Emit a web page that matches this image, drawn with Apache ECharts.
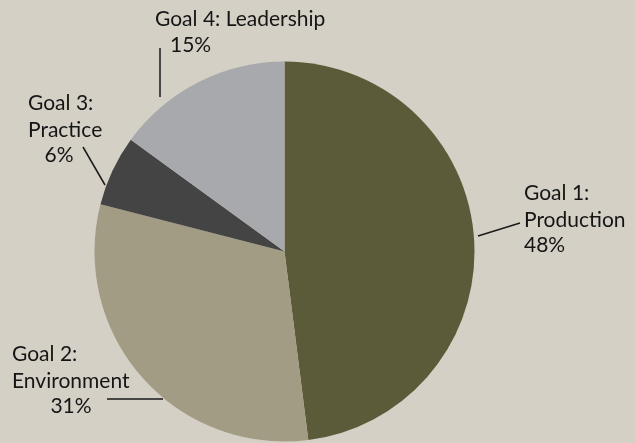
<!DOCTYPE html>
<html>
<head>
<meta charset="utf-8">
<script src="https://cdn.jsdelivr.net/npm/echarts@6/dist/echarts.min.js"></script>
<style>
  html, body { margin: 0; padding: 0; background: #d4d0c5; }
  #chart { width: 635px; height: 443px; }
</style>
</head>
<body>
<div id="chart"></div>
<script>
// Share of effort by goal (percent)
const goalNames = ['Goal 1:', 'Goal 2:', 'Goal 3:', 'Goal 4:'];
const goalTopics = ['Production', 'Environment', 'Practice', 'Leadership'];
const goalShares = [48, 31, 6, 15];

const sliceColors = ['#5b5a39', '#a39c84', '#444444', '#a8a9ad'];

// Label block anchors (top-left), block widths and leader line segments
const labelAnchors = [[524, 179], [12, 340], [28, 89], [155, 6]];
const labelWidths = [110, 118, 62, 200];
const leaderLines = [
  [[478, 236], [520, 223]],
  [[107, 399], [163, 399]],
  [[83, 147], [105, 185]],
  [[160, 48], [160, 97]]
];

const font = { fontSize: 21, color: '#151515', fontFamily: 'Lato' };
const labelRich = {
  g: Object.assign({ lineHeight: 29, align: 'left' }, font),
  gi: Object.assign({ lineHeight: 27, align: 'left' }, font),
  t: Object.assign({ lineHeight: 25, align: 'left' }, font),
  p: Object.assign({ lineHeight: 25, align: 'left' }, font),
  pc: Object.assign({ lineHeight: 25, align: 'center' }, font),
  pi: Object.assign({ lineHeight: 25, align: 'left', padding: [0, 0, 0, 15] }, font)
};

function labelText(i) {
  const pct = goalShares[i] + '%';
  if (i === 3) {
    return '{gi|' + goalNames[i] + ' ' + goalTopics[i] + '}\n{pi|' + pct + '}';
  }
  const pStyle = i === 0 ? 'p' : 'pc';
  return '{g|' + goalNames[i] + '}\n{t|' + goalTopics[i] + '}\n{' + pStyle + '|' + pct + '}';
}

const chart = echarts.init(document.getElementById('chart'), null, { renderer: 'canvas' });

chart.setOption({
  backgroundColor: '#d4d0c5',
  animation: false,
  series: [{
    type: 'pie',
    center: [284.5, 251.5],
    radius: 190,
    startAngle: 90,
    clockwise: true,
    silent: true,
    data: goalShares.map((v, i) => ({
      name: goalNames[i] + ' ' + goalTopics[i],
      value: v,
      itemStyle: { color: sliceColors[i] },
      label: { formatter: () => labelText(i), width: labelWidths[i] }
    })),
    label: {
      show: true,
      position: 'outside',
      overflow: 'none',
      rich: labelRich
    },
    labelLine: {
      show: true,
      smooth: false,
      lineStyle: { color: '#1a1a1a', width: 1.5 }
    },
    labelLayout: function (params) {
      const i = params.dataIndex;
      const seg = leaderLines[i];
      return {
        x: labelAnchors[i][0],
        y: labelAnchors[i][1],
        align: 'left',
        verticalAlign: 'top',
        labelLinePoints: [seg[0], seg[1], seg[1]]
      };
    }
  }]
});
</script>
</body>
</html>
